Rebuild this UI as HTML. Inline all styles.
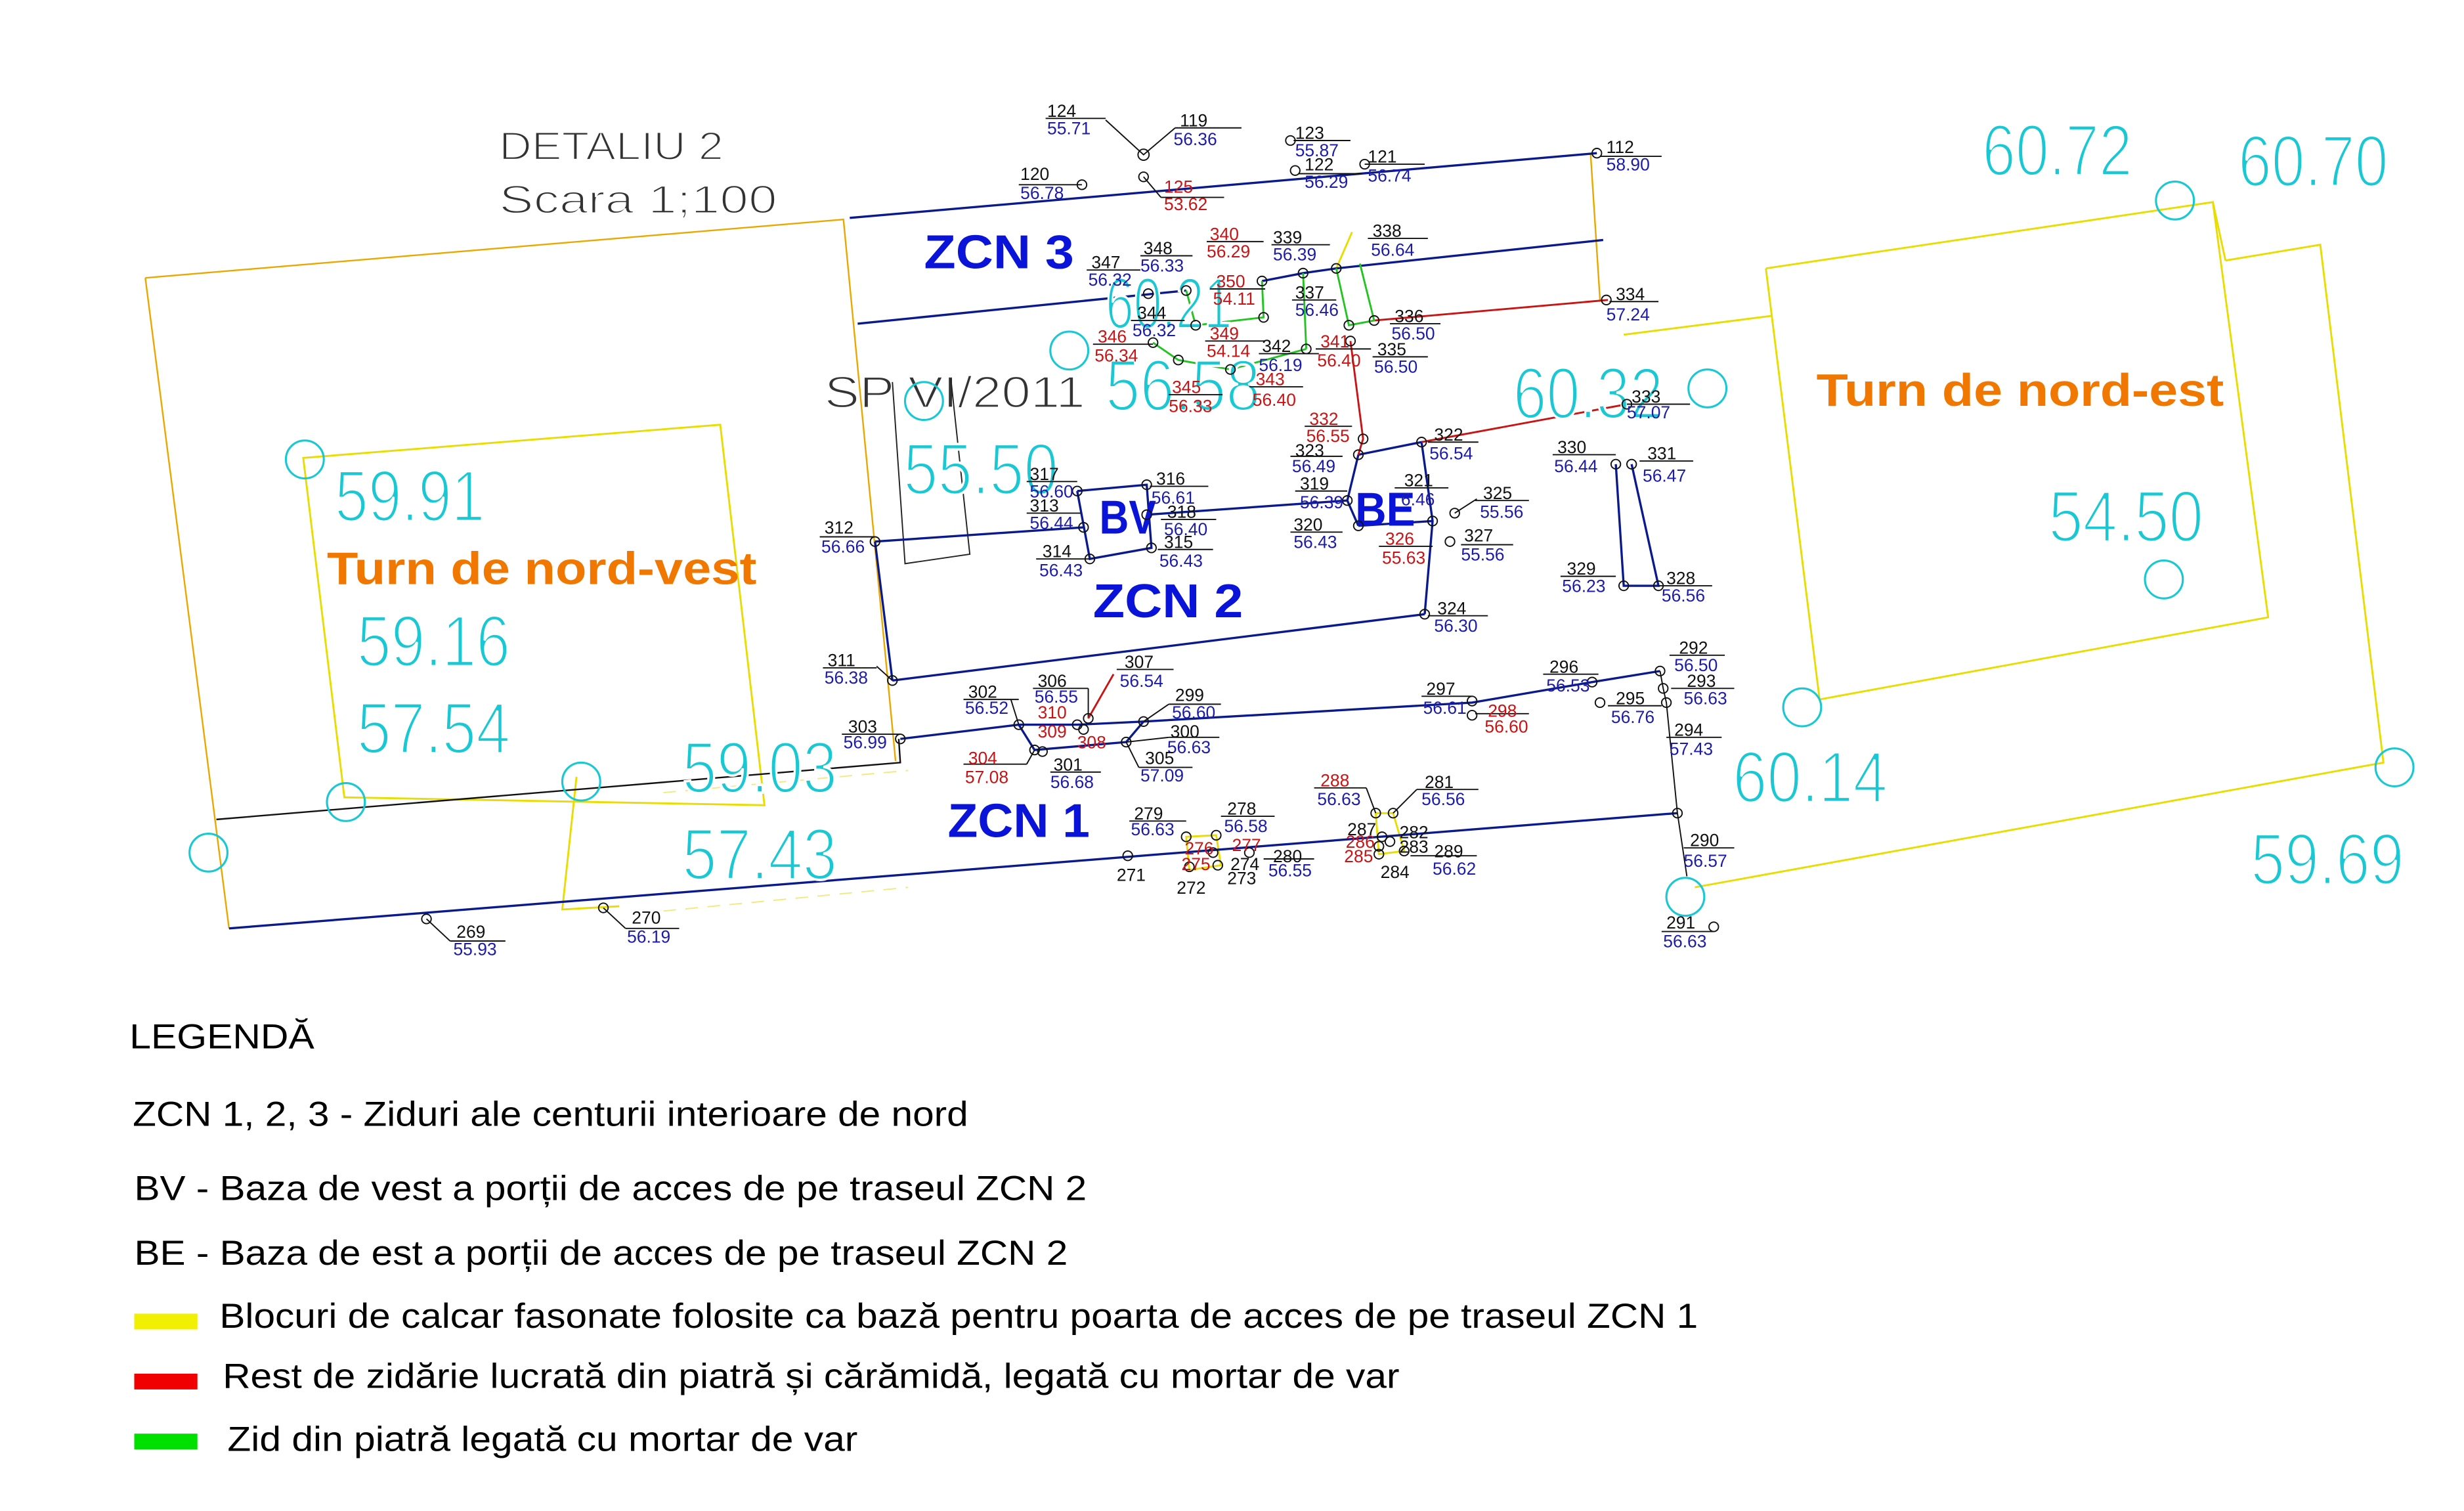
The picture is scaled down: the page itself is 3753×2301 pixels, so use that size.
<!DOCTYPE html>
<html><head><meta charset="utf-8"><style>
html,body{margin:0;padding:0;background:#fff;}
svg{display:block;}
text{font-family:"Liberation Sans",sans-serif;}
.n{font-size:11px;fill:#111;}
.b{font-size:11px;fill:#1c1ca8;}
.r{font-size:11px;fill:#c81414;}
.c{font-size:46px;fill:#19c8d2;font-weight:normal;stroke:#fff;stroke-width:1.6px;}
.t{fill:#333;stroke:#fff;stroke-width:0.9px;}
.z{font-size:30px;fill:#0a14d8;font-weight:bold;}
.o{font-size:29px;fill:#f07800;font-weight:bold;}
.l{font-size:22px;fill:#000;}
</style></head><body>
<svg width="3753" height="2301" viewBox="0 0 1560 957" preserveAspectRatio="none" xmlns="http://www.w3.org/2000/svg">
<rect width="1560" height="957" fill="#fff"/>
<!-- title -->
<text class="t" x="316" y="101" font-size="25" textLength="142" lengthAdjust="spacingAndGlyphs">DETALIU  2</text>
<text class="t" x="316" y="135" font-size="25" textLength="176" lengthAdjust="spacingAndGlyphs">Scara  1;100</text>
<text class="t" x="522" y="258" font-size="28" textLength="165" lengthAdjust="spacingAndGlyphs">SP VI/2011</text>

<!-- yellow/orange outlines -->
<g fill="none" stroke="#e8a800" stroke-width="1">
<polyline points="92,176 534,139 567,482"/>
<polyline points="92,176 145,588"/>
<polyline points="1007,97 1013,190"/>
</g>
<g fill="none" stroke="#e8dc00" stroke-width="1.2">
<polygon points="192,290 456,269 484,510 218,505"/>
<polyline points="365,492 356,576 392,574"/>
<polyline points="1118,170 1401,128 1436,391 1152,443 1118,170"/>
<polyline points="1409,165 1469,155 1509,483 1073,562"/>
<polyline points="1028,212 1122,200"/>
<polyline points="1401,128 1409,165"/>
<polyline points="846,170 856,147"/>
<polygon points="751,530 770,529 773,548 753,551"/>
<polygon points="871,515 882,515 889,539 873,541"/>
</g>
<g fill="none" stroke="#f0ea80" stroke-width="0.8">
<line x1="420" y1="502" x2="575" y2="488" stroke-dasharray="8,6"/>
<line x1="420" y1="577" x2="575" y2="562" stroke-dasharray="8,6"/>
</g>

<!-- SP box black -->
<polyline points="565,242 573,357 614,351 602,240" fill="none" stroke="#222" stroke-width="0.8"/>
<!-- black wall -->
<polyline points="137,519 570,483 569,468" fill="none" stroke="#111" stroke-width="1"/>

<!-- blue lines -->
<g fill="none" stroke="#0a1a8c" stroke-width="1.4">
<line x1="538" y1="138" x2="1011" y2="97"/>
<line x1="543" y1="205" x2="751" y2="184"/>
<polyline points="799,178 825,173 846,170 1015,152"/>
<line x1="554" y1="343" x2="686" y2="334"/>
<line x1="726" y1="326" x2="853" y2="317"/>
<polyline points="682,311 726,307 729,347 690,354 682,311"/>
<polyline points="860,333 907,330"/>
<polyline points="860,288 900,280 907,330 902,389"/>
<polyline points="860,288 853,317 860,333"/>
<line x1="554" y1="343" x2="565" y2="431"/>
<line x1="565" y1="431" x2="902" y2="389"/>
<polyline points="570,468 645,459 682,459 724,457 932,445 1008,432 1051,425"/>
<polyline points="645,459 655,475 713,470 724,457"/>
<polyline points="1023,294 1028,371 1050,371 1033,294"/>
<line x1="145" y1="588" x2="1062" y2="515"/>
</g>
<!-- black connectors -->
<g fill="none" stroke="#111" stroke-width="0.8">
<polyline points="1051,425 1053,436 1055,445 1062,515 1068,555"/>
<polyline points="700,76 724,98 744,81"/>
<line x1="724" y1="112" x2="735" y2="125"/>
<line x1="270" y1="582" x2="285" y2="596"/>
<line x1="382" y1="575" x2="396" y2="588"/>
<line x1="565" y1="431" x2="555" y2="422"/>
<line x1="871" y1="515" x2="865" y2="499"/>
<line x1="882" y1="515" x2="897" y2="500"/>
<line x1="713" y1="470" x2="740" y2="467"/>
<line x1="713" y1="470" x2="721" y2="486"/>
<line x1="724" y1="457" x2="740" y2="446"/>
<line x1="655" y1="475" x2="650" y2="484"/>
<line x1="645" y1="459" x2="640" y2="443"/>
<line x1="689" y1="455" x2="689" y2="436"/>
<line x1="921" y1="325" x2="935" y2="316"/>
</g>
<!-- red walls -->
<g fill="none" stroke="#c81414" stroke-width="1.2">
<line x1="870" y1="203" x2="1018" y2="190"/>
<polyline points="855,216 863,278 860,288"/>
<line x1="900" y1="280" x2="1030" y2="256"/>
<line x1="689" y1="455" x2="705" y2="427"/>
</g>
<!-- green walls -->
<g fill="none" stroke="#22c422" stroke-width="1.2">
<polyline points="751,184 757,206 800,201 799,178"/>
<polyline points="825,173 827,221"/>
<polyline points="846,170 854,206 870,203 861,167"/>
<polyline points="730,217 746,228 779,234 827,221"/>
</g>

<!-- cyan circles -->
<g fill="none" stroke="#19c8d2" stroke-width="1.3">
<circle cx="1377" cy="127" r="12"/>
<circle cx="193" cy="291" r="12"/>
<circle cx="219" cy="508" r="12"/>
<circle cx="368" cy="495" r="12"/>
<circle cx="132" cy="540" r="12"/>
<circle cx="1081" cy="246" r="12"/>
<circle cx="1141" cy="448" r="12"/>
<circle cx="1370" cy="367" r="12"/>
<circle cx="1516" cy="486" r="12"/>
<circle cx="1067" cy="568" r="12"/>
<circle cx="677" cy="222" r="12"/>
<circle cx="585" cy="254" r="12"/>
</g>
<!-- cyan numbers -->
<g class="c">
<text x="1255" y="111" textLength="95" lengthAdjust="spacingAndGlyphs">60.72</text>
<text x="1417" y="118" textLength="95" lengthAdjust="spacingAndGlyphs">60.70</text>
<text x="212" y="330" textLength="95" lengthAdjust="spacingAndGlyphs">59.91</text>
<text x="226" y="422" textLength="97" lengthAdjust="spacingAndGlyphs">59.16</text>
<text x="226" y="477" textLength="97" lengthAdjust="spacingAndGlyphs">57.54</text>
<text x="432" y="502" textLength="98" lengthAdjust="spacingAndGlyphs">59.03</text>
<text x="432" y="557" textLength="98" lengthAdjust="spacingAndGlyphs">57.43</text>
<text x="1097" y="508" textLength="98" lengthAdjust="spacingAndGlyphs">60.14</text>
<text x="1425" y="560" textLength="97" lengthAdjust="spacingAndGlyphs">59.69</text>
<text x="1297" y="343" textLength="98" lengthAdjust="spacingAndGlyphs">54.50</text>
<text x="572" y="313" textLength="98" lengthAdjust="spacingAndGlyphs">55.50</text>
<text x="958" y="265" textLength="95" lengthAdjust="spacingAndGlyphs">60.32</text>
<text x="700" y="260" textLength="98" lengthAdjust="spacingAndGlyphs">56.58</text>
<text x="700" y="208" textLength="80" lengthAdjust="spacingAndGlyphs">60.21</text>
</g>

<!-- big labels -->
<text class="z" x="585" y="170" textLength="95" lengthAdjust="spacingAndGlyphs">ZCN  3</text>
<text class="z" x="692" y="391" textLength="95" lengthAdjust="spacingAndGlyphs">ZCN  2</text>
<text class="z" x="600" y="530" textLength="90" lengthAdjust="spacingAndGlyphs">ZCN  1</text>
<text class="z" x="696" y="338" textLength="36" lengthAdjust="spacingAndGlyphs">BV</text>
<text class="z" x="858" y="333" textLength="38" lengthAdjust="spacingAndGlyphs">BE</text>
<text class="o" x="207" y="370" textLength="272" lengthAdjust="spacingAndGlyphs">Turn  de  nord-vest</text>
<text class="o" x="1150" y="257" textLength="258" lengthAdjust="spacingAndGlyphs">Turn  de  nord-est</text>

<!-- point markers -->
<g fill="none" stroke="#111" stroke-width="0.8">
<circle cx="724" cy="98" r="3.5"/><circle cx="724" cy="112" r="3"/><circle cx="685" cy="117" r="3"/>
<circle cx="817" cy="89" r="3"/><circle cx="820" cy="108" r="3"/><circle cx="864" cy="104" r="3"/><circle cx="1011" cy="97" r="3"/>
<circle cx="727" cy="186" r="3"/><circle cx="751" cy="184" r="3"/><circle cx="799" cy="178" r="3"/><circle cx="825" cy="173" r="3"/><circle cx="846" cy="170" r="3"/>
<circle cx="800" cy="201" r="3"/><circle cx="757" cy="206" r="3"/><circle cx="870" cy="203" r="3"/><circle cx="854" cy="206" r="3"/><circle cx="855" cy="216" r="3"/>
<circle cx="730" cy="217" r="3"/><circle cx="827" cy="221" r="3"/><circle cx="746" cy="228" r="3"/><circle cx="779" cy="234" r="3"/><circle cx="1017" cy="190" r="3"/>
<circle cx="863" cy="278" r="3"/><circle cx="860" cy="288" r="3"/><circle cx="900" cy="280" r="3"/><circle cx="1030" cy="256" r="3"/>
<circle cx="682" cy="311" r="3"/><circle cx="726" cy="307" r="3"/><circle cx="726" cy="326" r="3"/><circle cx="686" cy="334" r="3"/><circle cx="690" cy="354" r="3"/><circle cx="729" cy="347" r="3"/>
<circle cx="853" cy="317" r="3"/><circle cx="907" cy="330" r="3"/><circle cx="860" cy="333" r="3"/><circle cx="921" cy="325" r="3"/><circle cx="918" cy="343" r="3"/><circle cx="902" cy="389" r="3"/>
<circle cx="1023" cy="294" r="3"/><circle cx="1033" cy="294" r="3"/><circle cx="1028" cy="371" r="3"/><circle cx="1050" cy="371" r="3"/>
<circle cx="554" cy="343" r="3"/><circle cx="565" cy="431" r="3"/><circle cx="570" cy="468" r="3"/>
<circle cx="645" cy="459" r="3"/><circle cx="682" cy="459" r="3"/><circle cx="689" cy="455" r="3"/><circle cx="686" cy="462" r="3"/><circle cx="724" cy="457" r="3"/><circle cx="713" cy="470" r="3"/><circle cx="655" cy="475" r="3"/><circle cx="660" cy="476" r="3"/>
<circle cx="932" cy="444" r="3"/><circle cx="932" cy="453" r="3"/><circle cx="1008" cy="432" r="3"/><circle cx="1051" cy="425" r="3"/><circle cx="1053" cy="436" r="3"/><circle cx="1013" cy="445" r="3"/><circle cx="1055" cy="445" r="3"/>
<circle cx="1062" cy="515" r="3"/><circle cx="1085" cy="587" r="3"/>
<circle cx="751" cy="530" r="3"/><circle cx="770" cy="529" r="3"/><circle cx="714" cy="542" r="3"/><circle cx="753" cy="549" r="3"/><circle cx="771" cy="548" r="3"/><circle cx="768" cy="540" r="3"/><circle cx="791" cy="540" r="3"/>
<circle cx="871" cy="515" r="3"/><circle cx="882" cy="515" r="3"/><circle cx="889" cy="539" r="3"/><circle cx="873" cy="541" r="3"/><circle cx="875" cy="530" r="3"/><circle cx="880" cy="533" r="3"/><circle cx="873" cy="536" r="3"/>
<circle cx="270" cy="582" r="3"/><circle cx="382" cy="575" r="3"/>
</g>

<!-- point labels -->
<g stroke="#111" stroke-width="0.8">
<line x1="662" y1="75" x2="700" y2="75"/><line x1="744" y1="81" x2="786" y2="81"/><line x1="819" y1="89" x2="855" y2="89"/>
<line x1="822" y1="110" x2="862" y2="110"/><line x1="864" y1="104" x2="902" y2="104"/><line x1="1013" y1="99" x2="1052" y2="99"/>
<line x1="645" y1="117" x2="685" y2="117"/><line x1="735" y1="125" x2="775" y2="125"/>
<line x1="764" y1="153" x2="800" y2="153"/><line x1="805" y1="155" x2="842" y2="155"/><line x1="866" y1="151" x2="904" y2="151"/>
<line x1="722" y1="162" x2="755" y2="162"/><line x1="688" y1="171" x2="722" y2="171"/><line x1="766" y1="183" x2="801" y2="183"/>
<line x1="818" y1="190" x2="846" y2="190"/><line x1="880" y1="205" x2="912" y2="205"/><line x1="1019" y1="191" x2="1050" y2="191"/>
<line x1="716" y1="203" x2="750" y2="203"/><line x1="692" y1="218" x2="730" y2="218"/><line x1="763" y1="216" x2="801" y2="216"/>
<line x1="797" y1="224" x2="835" y2="224"/><line x1="833" y1="221" x2="868" y2="221"/><line x1="869" y1="226" x2="904" y2="226"/>
<line x1="740" y1="250" x2="774" y2="250"/><line x1="791" y1="245" x2="825" y2="245"/><line x1="1030" y1="256" x2="1070" y2="256"/>
<line x1="826" y1="270" x2="856" y2="270"/><line x1="817" y1="289" x2="850" y2="289"/><line x1="904" y1="280" x2="936" y2="280"/>
<line x1="983" y1="288" x2="1023" y2="288"/><line x1="1038" y1="292" x2="1072" y2="292"/>
<line x1="650" y1="305" x2="682" y2="305"/><line x1="728" y1="308" x2="765" y2="308"/><line x1="820" y1="311" x2="853" y2="311"/>
<line x1="883" y1="309" x2="917" y2="309"/><line x1="934" y1="317" x2="968" y2="317"/><line x1="650" y1="325" x2="684" y2="325"/>
<line x1="735" y1="329" x2="770" y2="329"/><line x1="519" y1="340" x2="554" y2="340"/><line x1="817" y1="337" x2="850" y2="337"/>
<line x1="873" y1="346" x2="907" y2="346"/><line x1="925" y1="345" x2="958" y2="345"/><line x1="656" y1="354" x2="690" y2="354"/>
<line x1="733" y1="348" x2="768" y2="348"/><line x1="988" y1="365" x2="1023" y2="365"/><line x1="1050" y1="371" x2="1084" y2="371"/>
<line x1="904" y1="390" x2="942" y2="390"/><line x1="521" y1="423" x2="555" y2="423"/><line x1="707" y1="424" x2="743" y2="424"/>
<line x1="1057" y1="415" x2="1092" y2="415"/><line x1="977" y1="427" x2="1012" y2="427"/><line x1="1058" y1="436" x2="1098" y2="436"/>
<line x1="654" y1="436" x2="689" y2="436"/><line x1="610" y1="443" x2="645" y2="443"/><line x1="740" y1="446" x2="773" y2="446"/>
<line x1="900" y1="441" x2="932" y2="441"/><line x1="1018" y1="447" x2="1052" y2="447"/><line x1="934" y1="452" x2="968" y2="452"/>
<line x1="533" y1="465" x2="570" y2="465"/><line x1="740" y1="467" x2="772" y2="467"/><line x1="1055" y1="467" x2="1090" y2="467"/>
<line x1="610" y1="484" x2="650" y2="484"/><line x1="721" y1="486" x2="755" y2="486"/><line x1="665" y1="489" x2="697" y2="489"/>
<line x1="832" y1="499" x2="865" y2="499"/><line x1="897" y1="500" x2="936" y2="500"/><line x1="715" y1="520" x2="751" y2="520"/>
<line x1="773" y1="517" x2="807" y2="517"/><line x1="1066" y1="537" x2="1098" y2="537"/><line x1="800" y1="544" x2="832" y2="544"/>
<line x1="893" y1="542" x2="935" y2="542"/><line x1="285" y1="596" x2="320" y2="596"/><line x1="396" y1="588" x2="430" y2="588"/>
<line x1="1052" y1="590" x2="1085" y2="590"/>
</g>
<g>
<text class="n" x="663" y="74">124</text><text class="b" x="663" y="85">55.71</text>
<text class="n" x="747" y="80">119</text><text class="b" x="743" y="92">56.36</text>
<text class="n" x="820" y="88">123</text><text class="b" x="820" y="99">55.87</text>
<text class="n" x="826" y="108">122</text><text class="b" x="826" y="119">56.29</text>
<text class="n" x="866" y="103">121</text><text class="b" x="866" y="115">56.74</text>
<text class="n" x="1017" y="97">112</text><text class="b" x="1017" y="108">58.90</text>
<text class="n" x="646" y="114">120</text><text class="b" x="646" y="126">56.78</text>
<text class="r" x="737" y="122">125</text><text class="r" x="737" y="133">53.62</text>
<text class="r" x="766" y="152">340</text><text class="r" x="764" y="163">56.29</text>
<text class="n" x="806" y="154">339</text><text class="b" x="806" y="165">56.39</text>
<text class="n" x="869" y="150">338</text><text class="b" x="868" y="162">56.64</text>
<text class="n" x="724" y="161">348</text><text class="b" x="722" y="172">56.33</text>
<text class="n" x="691" y="170">347</text><text class="b" x="689" y="181">56.32</text>
<text class="r" x="770" y="182">350</text><text class="r" x="768" y="193">54.11</text>
<text class="n" x="820" y="189">337</text><text class="b" x="820" y="200">56.46</text>
<text class="n" x="883" y="204">336</text><text class="b" x="881" y="215">56.50</text>
<text class="n" x="1023" y="190">334</text><text class="b" x="1017" y="203">57.24</text>
<text class="n" x="720" y="202">344</text><text class="b" x="717" y="213">56.32</text>
<text class="r" x="695" y="217">346</text><text class="r" x="693" y="229">56.34</text>
<text class="r" x="766" y="215">349</text><text class="r" x="764" y="226">54.14</text>
<text class="n" x="799" y="223">342</text><text class="b" x="797" y="235">56.19</text>
<text class="r" x="836" y="220">341</text><text class="r" x="834" y="232">56.40</text>
<text class="n" x="872" y="225">335</text><text class="b" x="870" y="236">56.50</text>
<text class="r" x="742" y="249">345</text><text class="r" x="740" y="261">56.33</text>
<text class="r" x="795" y="244">343</text><text class="r" x="793" y="257">56.40</text>
<text class="n" x="1033" y="255">333</text><text class="b" x="1030" y="265">57.07</text>
<text class="r" x="829" y="269">332</text><text class="r" x="827" y="280">56.55</text>
<text class="n" x="820" y="289">323</text><text class="b" x="818" y="299">56.49</text>
<text class="n" x="908" y="279">322</text><text class="b" x="905" y="291">56.54</text>
<text class="n" x="986" y="287">330</text><text class="b" x="984" y="299">56.44</text>
<text class="n" x="1043" y="291">331</text><text class="b" x="1040" y="305">56.47</text>
<text class="n" x="652" y="304">317</text><text class="b" x="652" y="315">56.60</text>
<text class="n" x="732" y="307">316</text><text class="b" x="729" y="319">56.61</text>
<text class="n" x="823" y="310">319</text><text class="b" x="823" y="322">56.39</text>
<text class="n" x="889" y="308">321</text><text class="b" x="887" y="320">6.46</text>
<text class="n" x="939" y="316">325</text><text class="b" x="937" y="328">55.56</text>
<text class="n" x="652" y="324">313</text><text class="b" x="652" y="335">56.44</text>
<text class="n" x="739" y="328">318</text><text class="b" x="737" y="339">56.40</text>
<text class="n" x="522" y="338">312</text><text class="b" x="520" y="350">56.66</text>
<text class="n" x="819" y="336">320</text><text class="b" x="819" y="347">56.43</text>
<text class="r" x="877" y="345">326</text><text class="r" x="875" y="357">55.63</text>
<text class="n" x="927" y="343">327</text><text class="b" x="925" y="355">55.56</text>
<text class="n" x="660" y="353">314</text><text class="b" x="658" y="365">56.43</text>
<text class="n" x="737" y="347">315</text><text class="b" x="734" y="359">56.43</text>
<text class="n" x="992" y="364">329</text><text class="b" x="989" y="375">56.23</text>
<text class="n" x="1055" y="370">328</text><text class="b" x="1052" y="381">56.56</text>
<text class="n" x="910" y="389">324</text><text class="b" x="908" y="400">56.30</text>
<text class="n" x="524" y="422">311</text><text class="b" x="522" y="433">56.38</text>
<text class="n" x="712" y="423">307</text><text class="b" x="709" y="435">56.54</text>
<text class="n" x="1063" y="414">292</text><text class="b" x="1060" y="425">56.50</text>
<text class="n" x="981" y="426">296</text><text class="b" x="979" y="438">56.53</text>
<text class="n" x="1068" y="435">293</text><text class="b" x="1066" y="446">56.63</text>
<text class="n" x="657" y="435">306</text><text class="b" x="655" y="445">56.55</text>
<text class="n" x="613" y="442">302</text><text class="b" x="611" y="452">56.52</text>
<text class="n" x="744" y="444">299</text><text class="b" x="742" y="455">56.60</text>
<text class="n" x="903" y="440">297</text><text class="b" x="901" y="452">56.61</text>
<text class="n" x="1023" y="446">295</text><text class="b" x="1020" y="458">56.76</text>
<text class="r" x="657" y="455">310</text>
<text class="r" x="942" y="454">298</text><text class="r" x="940" y="464">56.60</text>
<text class="n" x="537" y="464">303</text><text class="b" x="534" y="474">56.99</text>
<text class="r" x="657" y="467">309</text>
<text class="r" x="682" y="474">308</text>
<text class="n" x="741" y="467">300</text><text class="b" x="739" y="477">56.63</text>
<text class="n" x="1060" y="466">294</text><text class="b" x="1057" y="478">57.43</text>
<text class="r" x="613" y="484">304</text><text class="r" x="611" y="496">57.08</text>
<text class="n" x="725" y="484">305</text><text class="b" x="722" y="495">57.09</text>
<text class="n" x="667" y="488">301</text><text class="b" x="665" y="499">56.68</text>
<text class="r" x="836" y="498">288</text><text class="b" x="834" y="510">56.63</text>
<text class="n" x="902" y="499">281</text><text class="b" x="900" y="510">56.56</text>
<text class="n" x="718" y="519">279</text><text class="b" x="716" y="529">56.63</text>
<text class="n" x="777" y="516">278</text><text class="b" x="775" y="527">56.58</text>
<text class="n" x="853" y="529">287</text>
<text class="n" x="886" y="531">282</text>
<text class="r" x="780" y="539">277</text>
<text class="r" x="750" y="541">276</text>
<text class="n" x="1070" y="536">290</text><text class="b" x="1066" y="549">56.57</text>
<text class="r" x="852" y="537">286</text>
<text class="n" x="886" y="540">283</text>
<text class="n" x="806" y="546">280</text>
<text class="n" x="908" y="543">289</text>
<text class="r" x="851" y="546">285</text>
<text class="r" x="748" y="551">275</text>
<text class="n" x="779" y="551">274</text>
<text class="b" x="803" y="555">56.55</text>
<text class="b" x="907" y="554">56.62</text>
<text class="n" x="707" y="558">271</text>
<text class="n" x="874" y="556">284</text>
<text class="n" x="777" y="560">273</text>
<text class="n" x="745" y="566">272</text>
<text class="n" x="289" y="594">269</text><text class="b" x="287" y="605">55.93</text>
<text class="n" x="400" y="585">270</text><text class="b" x="397" y="597">56.19</text>
<text class="n" x="1055" y="588">291</text><text class="b" x="1053" y="600">56.63</text>
</g>

<!-- legend -->
<text class="l" x="82" y="664" textLength="117" lengthAdjust="spacingAndGlyphs">LEGENDĂ</text>
<text class="l" x="84" y="713" textLength="529" lengthAdjust="spacingAndGlyphs">ZCN 1, 2, 3 - Ziduri ale centurii interioare de nord</text>
<text class="l" x="85" y="760" textLength="603" lengthAdjust="spacingAndGlyphs">BV - Baza de vest a porții de acces de pe traseul ZCN 2</text>
<text class="l" x="85" y="801" textLength="591" lengthAdjust="spacingAndGlyphs">BE - Baza de est a porții de acces de pe traseul ZCN 2</text>
<rect x="85" y="832" width="40" height="10" fill="#f0f000"/>
<text class="l" x="139" y="841" textLength="936" lengthAdjust="spacingAndGlyphs">Blocuri de calcar fasonate folosite ca bază pentru poarta de acces de pe traseul ZCN 1</text>
<rect x="85" y="870" width="40" height="10" fill="#f00000"/>
<text class="l" x="141" y="879" textLength="745" lengthAdjust="spacingAndGlyphs">Rest de zidărie lucrată din piatră și cărămidă, legată cu mortar de var</text>
<rect x="85" y="908" width="40" height="10" fill="#00e000"/>
<text class="l" x="144" y="919" textLength="399" lengthAdjust="spacingAndGlyphs">Zid din piatră legată cu mortar de var</text>
</svg>
</body></html>
